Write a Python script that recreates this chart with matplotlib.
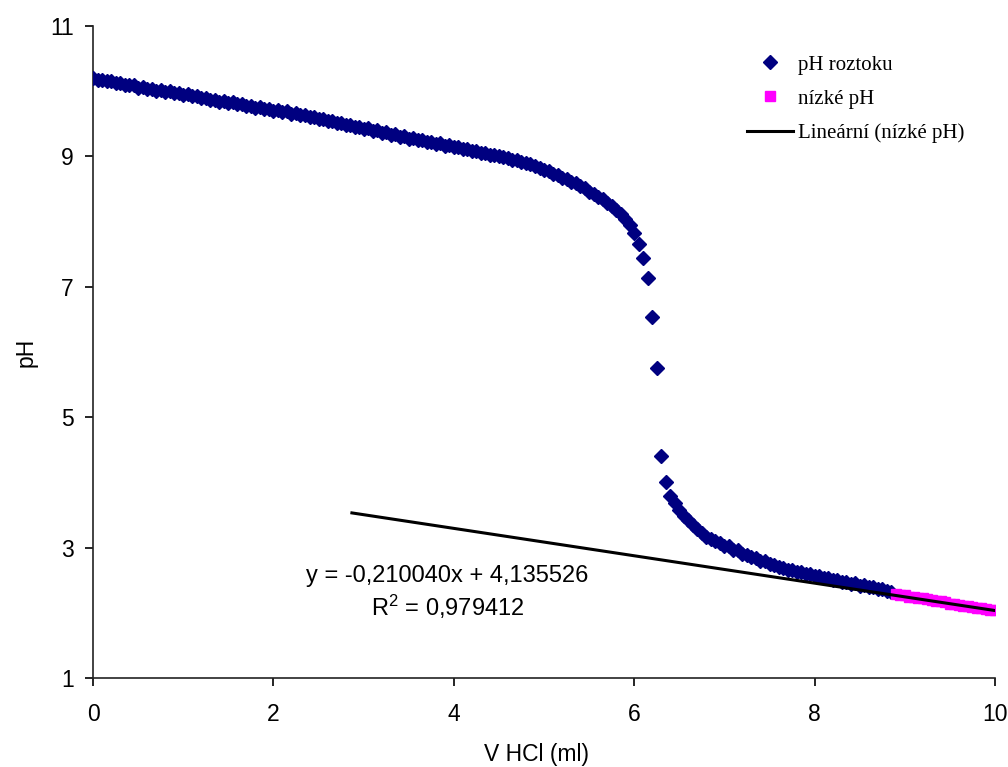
import matplotlib
matplotlib.use('Agg')
import matplotlib.pyplot as plt
import numpy as np

plt.rcParams['font.family'] = ['Liberation Sans', 'DejaVu Sans']

# titrace: krok davkovani HCl (ml)
V_STEP = 0.05

# pH roztoku, od 0 ml po krocich 0.05 ml
ph_roztok = [
    10.20, 10.17, 10.18, 10.15, 10.16, 10.12, 10.13, 10.10, 10.09, 10.09,
    10.05, 10.06, 10.03, 10.04, 10.01, 10.02, 9.99, 10.00, 9.97, 9.98,
    9.95, 9.96, 9.92, 9.93, 9.89, 9.90, 9.87, 9.87, 9.84, 9.85,
    9.82, 9.83, 9.80, 9.81, 9.78, 9.78, 9.75, 9.76, 9.73, 9.73,
    9.70, 9.71, 9.68, 9.69, 9.65, 9.66, 9.63, 9.63, 9.60, 9.61,
    9.57, 9.58, 9.54, 9.55, 9.51, 9.52, 9.48, 9.48, 9.45, 9.45,
    9.42, 9.43, 9.39, 9.40, 9.36, 9.37, 9.33, 9.34, 9.30, 9.31,
    9.27, 9.28, 9.25, 9.25, 9.22, 9.22, 9.19, 9.20, 9.16, 9.17,
    9.14, 9.14, 9.11, 9.12, 9.08, 9.09, 9.05, 9.06, 9.03, 9.02,
    9.00, 8.99, 8.97, 8.95, 8.94, 8.92, 8.90, 8.88, 8.85, 8.83,
    8.79, 8.77, 8.73, 8.71, 8.67, 8.65, 8.61, 8.59, 8.54, 8.51,
    8.46, 8.43, 8.38, 8.34, 8.28, 8.24, 8.18, 8.12, 8.04, 7.95,
    7.83, 7.65, 7.45, 7.13, 6.53, 5.76, 4.40, 4.01, 3.79, 3.68,
    3.58, 3.49, 3.42, 3.35, 3.28, 3.22, 3.17, 3.13, 3.10, 3.07,
    3.03, 3.02, 2.97, 2.96, 2.91, 2.89, 2.85, 2.84, 2.79, 2.79,
    2.75, 2.74, 2.70, 2.69, 2.66, 2.66, 2.62, 2.63, 2.59, 2.59,
    2.56, 2.56, 2.53, 2.53, 2.50, 2.51, 2.47, 2.47, 2.44, 2.45,
    2.41, 2.42, 2.39, 2.39, 2.36, 2.36, 2.33, 2.32,
]

# nizke pH, od 8.90 ml
V_NIZKE_START = 8.90
ph_nizke = [
    2.29, 2.28, 2.27, 2.25, 2.25, 2.23, 2.22, 2.21, 2.20, 2.18,
    2.18, 2.16, 2.14, 2.14, 2.12, 2.11, 2.10, 2.09, 2.08, 2.07,
    2.06, 2.05, 2.04,
]

# linearni trend (nizke pH)
slope = -0.210040
intercept = 4.135526
r2 = 0.979412
trend_range = [2.87, 10.0]

v_roztok = np.arange(len(ph_roztok)) * V_STEP
v_nizke = V_NIZKE_START + np.arange(len(ph_nizke)) * V_STEP
v_trend = np.array(trend_range)
ph_trend = slope * v_trend + intercept

fig = plt.figure(figsize=(10.08, 7.67), dpi=100)
ax = fig.add_axes([0.0923, 0.1160, 0.8948, 0.8500])

ax.plot(v_roztok, ph_roztok, linestyle='none', marker='D', markersize=7.5,
        color='#000080', label='pH roztoku', zorder=3)
ax.plot(v_nizke, ph_nizke, linestyle='none', marker='s', markersize=7,
        color='#FF00FF', label='nízké pH', zorder=3)
ax.plot(v_trend, ph_trend, color='black', linewidth=2.2,
        label='Lineární (nízké pH)', zorder=4)

ax.set_xlim(0, 10)
ax.set_ylim(1, 11)
ax.set_xticks([0, 2, 4, 6, 8, 10])
ax.set_yticks([1, 3, 5, 7, 9, 11])
ax.tick_params(direction='out', length=6, width=1.2, labelsize=16.5)
ax.tick_params(axis='x', pad=12)
ax.tick_params(axis='y', pad=8)
for s in ['top', 'right']:
    ax.spines[s].set_visible(False)
for s in ['left', 'bottom']:
    ax.spines[s].set_linewidth(1.2)
    ax.spines[s].set_color('#222222')

ax.set_xlabel('V HCl (ml)', fontsize=16.5)
ax.set_ylabel('pH', fontsize=16.5)
ax.xaxis.set_label_coords(0.492, -0.100)
ax.yaxis.set_label_coords(-0.062, 0.5)

eq = 'y = %sx + %s\n$\\mathregular{R^2}$ = %s' % (
    ('%.6f' % slope).replace('.', ','),
    ('%.6f' % intercept).replace('.', ','),
    ('%.6f' % r2).replace('.', ','))
ax.text(3.93, 2.31, eq, fontsize=17, ha='center', va='center',
        linespacing=1.26)

leg = ax.legend(loc='upper left', bbox_to_anchor=(747 / 1008, 1 - 55 / 767),
                bbox_transform=fig.transFigure, frameon=False,
                prop={'family': 'Liberation Serif', 'size': 15},
                handlelength=2.2, handletextpad=0.25, labelspacing=0.7,
                borderpad=0, borderaxespad=0)

fig.savefig('out.png', dpi=100)
